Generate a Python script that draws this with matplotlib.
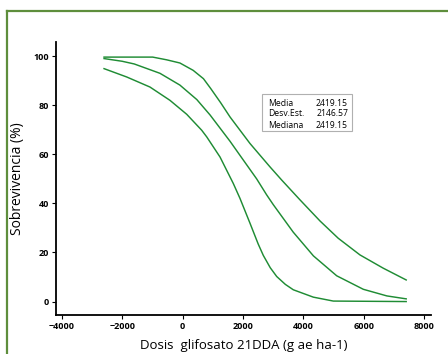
import matplotlib
matplotlib.use("Agg")
import matplotlib.pyplot as plt
from matplotlib.lines import Line2D

plt.rcParams['font.family'] = ['Open Sans', 'DejaVu Sans']

# Upper band
dose_upper = [-2600, -990, -530, -90, 350, 690, 930, 1260, 1570, 2230, 2890, 3280, 3880,
              4550, 5150, 5870, 6640, 7400]
surv_upper = [99.6, 99.6, 98.5, 97.2, 94.2, 90.8, 86.8, 81, 75.2, 64.4, 54.9, 49.5, 41.5,
              32.8, 25.8, 19, 13.6, 8.8]

# Fitted curve
dose_mid = [-2600, -2000, -1600, -750, -90, 470, 910, 1570, 1920, 2450, 2780, 3000, 3660,
            4330, 5100, 5980, 6760, 7400]
surv_mid = [99, 97.9, 96.8, 93, 88.2, 82.3, 76, 65.3, 59.2, 50, 43.5, 39.5, 28.3,
            18.6, 10.5, 5.0, 2.3, 1.1]

# Lower band
dose_lower = [-2600, -1850, -1080, -420, 136, 632, 798, 1238, 1678, 1900, 2231, 2500, 2671,
              2900, 3115, 3400, 3664, 4326, 4988, 7400]
surv_lower = [94.9, 91.5, 87.4, 82, 76.3, 69.8, 67.1, 58.9, 48.1, 42, 31.9, 23.5, 18.8,
              13.8, 10.2, 7, 4.8, 1.8, 0.2, 0]

stats_names = ["Media", "Desv.Est.", "Mediana"]
stats_vals = ["2419.15", "2146.57", "2419.15"]

xticks = [-4000, -2000, 0, 2000, 4000, 6000, 8000]
yticks = [0, 20, 40, 60, 80, 100]

fig = plt.figure(figsize=(4.48, 3.54), dpi=100)
ax = fig.add_axes([0.125, 0.110, 0.837, 0.771])

green = "#1f8c34"
for dose, surv in [(dose_upper, surv_upper), (dose_mid, surv_mid), (dose_lower, surv_lower)]:
    ax.plot(dose, surv, color=green, lw=1.05, solid_joinstyle="round")

ax.set_xlim(-4190, 8220)
ax.set_ylim(-5.5, 105.7)
ax.set_xticks(xticks)
ax.set_yticks(yticks)
ax.tick_params(labelsize=6.5, length=3, width=0.8, pad=2)
for lab in ax.get_xticklabels() + ax.get_yticklabels():
    lab.set_fontweight("bold")

for side in ["top", "right"]:
    ax.spines[side].set_visible(False)
for side in ["left", "bottom"]:
    ax.spines[side].set_linewidth(1.3)

ax.set_xlabel("Dosis  glifosato 21DDA (g ae ha-1)", fontsize=9.5, labelpad=6)
ax.set_ylabel("Sobrevivencia (%)", fontsize=10, labelpad=6)

# stats box
fig.patches.append(plt.Rectangle((262 / 448, 1 - 131 / 354), 90 / 448, 37 / 354,
                                 transform=fig.transFigure, fill=False,
                                 edgecolor="#b0b0b0", lw=0.8))
for i in range(len(stats_names)):
    y = 1 - (103 + 11 * i) / 354
    fig.text(268 / 448, y, stats_names[i], fontsize=6.2, va="center", ha="left")
    fig.text(348 / 448, y, stats_vals[i], fontsize=6.2, va="center", ha="right")

# outer green frame
frame_col = "#5e8e3c"
fig.lines.append(Line2D([7 / 448, 7 / 448], [0, 1 - 11 / 354], transform=fig.transFigure,
                        color=frame_col, lw=1.6))
fig.lines.append(Line2D([7 / 448, 1], [1 - 11 / 354, 1 - 11 / 354], transform=fig.transFigure,
                        color=frame_col, lw=1.6))

fig.savefig("out.png", dpi=100)
